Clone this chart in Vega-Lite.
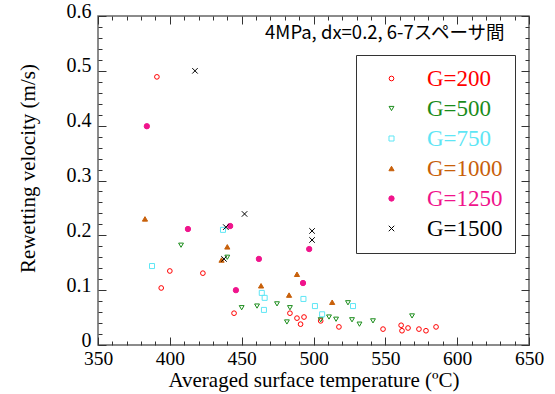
{
  "$schema": "https://vega.github.io/schema/vega-lite/v6.json",
  "width": 431,
  "height": 329,
  "autosize": {"type": "none"},
  "padding": {"left": 98, "top": 16, "right": 26, "bottom": 49},
  "background": "white",
  "config": {"view": {"stroke": "#666", "strokeWidth": 1.5}},
  "title": {"text": "4MPa, dx=0.2, 6-7スペーサ間", "anchor": "end", "offset": -41, "dx": -39, "font": "Noto Sans CJK JP", "fontSize": 18.5, "fontWeight": "normal", "color": "black"},
  "data": {"values": [
    {"G": "G=200", "T": 391, "v": 0.489},
    {"G": "G=200", "T": 400, "v": 0.135},
    {"G": "G=200", "T": 423, "v": 0.131},
    {"G": "G=200", "T": 394, "v": 0.104},
    {"G": "G=200", "T": 444.7, "v": 0.058},
    {"G": "G=200", "T": 483.6, "v": 0.058},
    {"G": "G=200", "T": 488.5, "v": 0.049},
    {"G": "G=200", "T": 493.4, "v": 0.051},
    {"G": "G=200", "T": 491, "v": 0.038},
    {"G": "G=200", "T": 505, "v": 0.044},
    {"G": "G=200", "T": 517.7, "v": 0.033},
    {"G": "G=200", "T": 548.4, "v": 0.029},
    {"G": "G=200", "T": 561, "v": 0.036},
    {"G": "G=200", "T": 561.6, "v": 0.026},
    {"G": "G=200", "T": 565.8, "v": 0.031},
    {"G": "G=200", "T": 573.4, "v": 0.029},
    {"G": "G=200", "T": 578.3, "v": 0.026},
    {"G": "G=200", "T": 585.3, "v": 0.033},
    {"G": "G=500", "T": 407.8, "v": 0.182},
    {"G": "G=500", "T": 440, "v": 0.16},
    {"G": "G=500", "T": 450, "v": 0.068},
    {"G": "G=500", "T": 460.7, "v": 0.071},
    {"G": "G=500", "T": 474.6, "v": 0.075},
    {"G": "G=500", "T": 483.6, "v": 0.068},
    {"G": "G=500", "T": 481.5, "v": 0.042},
    {"G": "G=500", "T": 505, "v": 0.046},
    {"G": "G=500", "T": 510.8, "v": 0.051},
    {"G": "G=500", "T": 515.7, "v": 0.047},
    {"G": "G=500", "T": 524, "v": 0.077},
    {"G": "G=500", "T": 526.8, "v": 0.046},
    {"G": "G=500", "T": 532, "v": 0.038},
    {"G": "G=500", "T": 541.4, "v": 0.044},
    {"G": "G=500", "T": 568.6, "v": 0.053},
    {"G": "G=750", "T": 387.6, "v": 0.144},
    {"G": "G=750", "T": 437, "v": 0.21},
    {"G": "G=750", "T": 464, "v": 0.095},
    {"G": "G=750", "T": 466, "v": 0.086},
    {"G": "G=750", "T": 465.5, "v": 0.064},
    {"G": "G=750", "T": 493, "v": 0.084},
    {"G": "G=750", "T": 501, "v": 0.071},
    {"G": "G=750", "T": 506, "v": 0.056},
    {"G": "G=750", "T": 527.5, "v": 0.071},
    {"G": "G=1000", "T": 382.7, "v": 0.23},
    {"G": "G=1000", "T": 440, "v": 0.179},
    {"G": "G=1000", "T": 436, "v": 0.155},
    {"G": "G=1000", "T": 463.5, "v": 0.108},
    {"G": "G=1000", "T": 483, "v": 0.091},
    {"G": "G=1000", "T": 488.5, "v": 0.129},
    {"G": "G=1000", "T": 513, "v": 0.078},
    {"G": "G=1250", "T": 384, "v": 0.399},
    {"G": "G=1250", "T": 412.6, "v": 0.2115},
    {"G": "G=1250", "T": 442, "v": 0.217},
    {"G": "G=1250", "T": 462, "v": 0.157},
    {"G": "G=1250", "T": 446, "v": 0.1},
    {"G": "G=1250", "T": 492.7, "v": 0.113},
    {"G": "G=1250", "T": 497, "v": 0.175},
    {"G": "G=1500", "T": 417.5, "v": 0.5},
    {"G": "G=1500", "T": 452, "v": 0.239},
    {"G": "G=1500", "T": 439, "v": 0.215},
    {"G": "G=1500", "T": 437.7, "v": 0.157},
    {"G": "G=1500", "T": 499, "v": 0.208},
    {"G": "G=1500", "T": 499, "v": 0.1915}
  ]},
  "resolve": {"axis": {"x": "independent", "y": "independent"}},
  "layer": [
    {
      "mark": {"type": "point", "filled": false, "strokeWidth": 1, "opacity": 1},
      "encoding": {
        "x": {"field": "T", "type": "quantitative",
          "scale": {"domain": [350, 650], "nice": false, "zero": false},
          "axis": {"orient": "bottom", "title": "Averaged surface temperature (ºC)",
            "values": [350,360,370,380,390,400,410,420,430,440,450,460,470,480,490,500,510,520,530,540,550,560,570,580,590,600,610,620,630,640,650],
            "labelExpr": "datum.value % 50 === 0 ? datum.label : ''",
            "tickSize": {"condition": {"test": "datum.value % 50 === 0", "value": -8}, "value": -4},
            "tickColor": "#333", "tickWidth": 1, "domain": false, "grid": false,
            "labelFont": "Liberation Serif, DejaVu Serif, serif", "labelFontSize": 19.5, "labelColor": "black", "labelPadding": 12,
            "labelFlush": false, "labelOverlap": false,
            "titleFont": "Liberation Serif, DejaVu Serif, serif", "titleFontSize": 21, "titleFontWeight": "normal", "titleColor": "black", "titlePadding": -2}},
        "y": {"field": "v", "type": "quantitative",
          "scale": {"domain": [0, 0.6], "nice": false},
          "axis": {"orient": "left", "title": "Rewetting velocity (m/s)",
            "values": [0,0.02,0.04,0.06,0.08,0.1,0.12,0.14,0.16,0.18,0.2,0.22,0.24,0.26,0.28,0.3,0.32,0.34,0.36,0.38,0.4,0.42,0.44,0.46,0.48,0.5,0.52,0.54,0.56,0.58,0.6],
            "labelExpr": "round(datum.value*100) % 10 === 0 ? format(datum.value, '~g') : ''",
            "tickSize": {"condition": {"test": "round(datum.value*100) % 10 === 0", "value": -8}, "value": -4},
            "tickColor": "#333", "tickWidth": 1, "domain": false, "grid": false,
            "labelFont": "Liberation Serif, DejaVu Serif, serif", "labelFontSize": 20, "labelColor": "black", "labelPadding": 15, "labelOffset": -5,
            "labelFlush": false, "labelOverlap": false,
            "titleFont": "Liberation Serif, DejaVu Serif, serif", "titleFontSize": 21, "titleFontWeight": "normal", "titleColor": "black",
            "titleX": -60, "titleY": 152, "titleAngle": -90, "titleAlign": "center", "titleBaseline": "bottom"}},
        "color": {"field": "G", "type": "nominal",
          "scale": {"domain": ["G=200","G=500","G=750","G=1000","G=1250","G=1500"],
                    "range": ["#ff0000","#1a8c1a","#5ee6f5","#c8600a","#f0148c","#000000"]},
          "legend": {"orient": "none", "legendX": 258, "legendY": 39, "title": null,
            "padding": 12, "strokeColor": "#333", "fillColor": "white",
            "labelFont": "Liberation Serif, DejaVu Serif, serif", "labelFontSize": 23, "labelOffset": 24, "symbolOffset": 12,
            "rowPadding": 6, "symbolStrokeWidth": 1,
            "labelColor": {"expr": "datum.value === 'G=200' ? '#ff0000' : datum.value === 'G=500' ? '#1a8c1a' : datum.value === 'G=750' ? '#5ee6f5' : datum.value === 'G=1000' ? '#c8600a' : datum.value === 'G=1250' ? '#f0148c' : '#000000'"}}},
        "shape": {"field": "G", "type": "nominal",
          "scale": {"domain": ["G=200","G=500","G=750","G=1000","G=1250","G=1500"],
                    "range": ["circle","triangle-down","square","triangle-up","circle","M-1,-1L1,1M-1,1L1,-1"]}},
        "fill": {"field": "G", "type": "nominal",
          "scale": {"domain": ["G=200","G=500","G=750","G=1000","G=1250","G=1500"],
                    "range": ["transparent","transparent","transparent","#c8600a","#f0148c","transparent"]}},
        "size": {"field": "G", "type": "nominal",
          "scale": {"domain": ["G=200","G=500","G=750","G=1000","G=1250","G=1500"],
                    "range": [22, 30, 40, 36, 38, 28]}}
      }
    },
    {
      "mark": {"type": "point", "opacity": 0},
      "encoding": {
        "x": {"field": "T", "type": "quantitative",
          "axis": {"orient": "top", "title": null,
            "values": [350,360,370,380,390,400,410,420,430,440,450,460,470,480,490,500,510,520,530,540,550,560,570,580,590,600,610,620,630,640,650],
            "labels": false,
            "tickSize": {"condition": {"test": "datum.value % 50 === 0", "value": -8}, "value": -4},
            "tickColor": "#333", "tickWidth": 1, "domain": false, "grid": false}},
        "y": {"field": "v", "type": "quantitative",
          "axis": {"orient": "right", "title": null,
            "values": [0,0.02,0.04,0.06,0.08,0.1,0.12,0.14,0.16,0.18,0.2,0.22,0.24,0.26,0.28,0.3,0.32,0.34,0.36,0.38,0.4,0.42,0.44,0.46,0.48,0.5,0.52,0.54,0.56,0.58,0.6],
            "labels": false,
            "tickSize": {"condition": {"test": "round(datum.value*100) % 10 === 0", "value": -8}, "value": -4},
            "tickColor": "#333", "tickWidth": 1, "domain": false, "grid": false}}
      }
    }
  ]
}
